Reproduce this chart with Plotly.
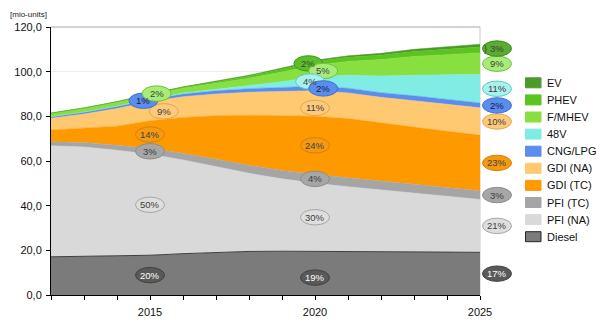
import plotly.graph_objects as go

# ---------------- data ----------------
years = list(range(2012, 2026))
diesel = [17.1, 17.3, 17.5, 17.8, 18.5, 19.1, 19.5, 19.6, 19.6, 19.5, 19.4, 19.3, 19.2, 19.1]
pfi_na = [49.7, 49.0, 47.3, 45.2, 42.0, 38.4, 35.0, 32.4, 30.4, 29.0, 27.6, 26.2, 24.8, 23.7]
pfi_tc = [1.8, 2.0, 2.3, 2.7, 3.0, 3.3, 3.6, 3.8, 4.0, 4.0, 4.0, 4.0, 4.0, 3.9]
gdi_tc = [5.3, 6.5, 8.5, 12.3, 16.0, 19.5, 22.4, 24.5, 26.0, 26.5, 26.0, 25.5, 25.3, 24.9]
gdi_na = [5.2, 6.2, 7.9, 8.5, 9.3, 9.7, 10.3, 11.0, 11.5, 11.5, 11.5, 12.0, 12.1, 12.2]
cng = [0.7, 0.8, 0.9, 1.0, 1.2, 1.4, 1.6, 1.8, 2.0, 2.1, 2.1, 2.2, 2.2, 2.2]
v48 = [0.0, 0.1, 0.2, 0.3, 0.4, 0.6, 1.2, 2.4, 4.2, 5.8, 7.5, 9.3, 11.0, 12.7]
fmhev = [1.5, 1.6, 1.7, 1.8, 2.2, 2.8, 3.5, 4.3, 5.2, 6.2, 7.3, 8.3, 9.0, 9.7]
phev = [0.1, 0.2, 0.2, 0.3, 0.4, 0.6, 0.9, 1.3, 1.6, 1.8, 2.0, 2.2, 2.4, 2.6]
ev = [0.1, 0.1, 0.1, 0.2, 0.2, 0.3, 0.4, 0.5, 0.6, 0.7, 0.8, 1.0, 1.1, 1.3]

series_names = ["Diesel", "PFI (NA)", "PFI (TC)", "GDI (TC)", "GDI (NA)",
                "CNG/LPG", "48V", "F/MHEV", "PHEV", "EV"]
series_values = [diesel, pfi_na, pfi_tc, gdi_tc, gdi_na, cng, v48, fmhev, phev, ev]
tick_years = [2015, 2020, 2025]
y_ticks = [0, 20, 40, 60, 80, 100, 120]

# share labels (text as printed on the chart)
labels_2015 = [("Diesel", "20%"), ("PFI (NA)", "50%"), ("PFI (TC)", "3%"), ("GDI (TC)", "14%"),
               ("GDI (NA)", "9%"), ("CNG/LPG", "1%"), ("F/MHEV", "2%")]
labels_2020 = [("Diesel", "19%"), ("PFI (NA)", "30%"), ("PFI (TC)", "4%"), ("GDI (TC)", "24%"),
               ("GDI (NA)", "11%"), ("PHEV", "2%"), ("F/MHEV", "5%"), ("48V", "4%"), ("CNG/LPG", "2%")]
labels_2025 = [("Diesel", "17%"), ("PFI (NA)", "21%"), ("PFI (TC)", "3%"), ("GDI (TC)", "23%"),
               ("GDI (NA)", "10%"), ("CNG/LPG", "2%"), ("48V", "11%"), ("F/MHEV", "9%"), ("EV+PHEV", "3%")]

# ---------------- style ----------------
colors = {
    "Diesel": "#7b7b7b", "PFI (NA)": "#d9d9d9", "PFI (TC)": "#a5a5a5", "GDI (TC)": "#ff9900",
    "GDI (NA)": "#ffc972", "CNG/LPG": "#5b8def", "48V": "#80ece4", "F/MHEV": "#88e040",
    "PHEV": "#5cc41e", "EV": "#4c9a2a",
}
lab_style = {  # fill, border, text
    "Diesel": ("#595959", "#404040", "#ffffff"),
    "PFI (NA)": ("#dedede", "#a6a6a6", "#404040"),
    "PFI (TC)": ("#a6a6a6", "#8c8c8c", "#404040"),
    "GDI (TC)": ("#f59a10", "#d88000", "#404040"),
    "GDI (NA)": ("#fdc97a", "#e0a850", "#404040"),
    "CNG/LPG": ("#5b8def", "#3f6fd0", "#1a1a40"),
    "48V": ("#a8f2ee", "#60c8c0", "#404040"),
    "F/MHEV": ("#a8ec78", "#70c040", "#404040"),
    "PHEV": ("#5cbf2a", "#3c9a1a", "#404040"),
    "EV+PHEV": ("#5aad30", "#3c8a1a", "#404040"),
}
off_2015 = {"GDI (NA)": (0.42, 0), "CNG/LPG": (-0.2, 0), "F/MHEV": (0.2, 1.5)}
off_2020 = {"Diesel": (0, -2), "GDI (NA)": (0, -2), "CNG/LPG": (0.25, 0), "48V": (-0.15, 0),
            "F/MHEV": (0.25, 0), "PHEV": (-0.2, 0)}

FONT = "Liberation Sans, Arial, sans-serif"
W, H = 605, 322
L, R, T, B = 51, 125, 27, 27
PW, PH = W - L - R, H - T - B
X0, X1 = years[0], years[-1]
Y0, Y1 = y_ticks[0], y_ticks[-1]


def xp(x):  # data x -> paper
    return (x - X0) / (X1 - X0)


def yp(y):  # data y -> paper
    return (y - Y0) / (Y1 - Y0)


def px_x(px):  # pixel -> paper
    return (px - L) / PW


def px_y(px):
    return (H - B - px) / PH


fig = go.Figure()
for name, vals in zip(series_names, series_values):
    line = dict(width=1, color="#404040") if name == "Diesel" else dict(width=0.5, color=colors[name])
    fig.add_trace(go.Scatter(x=years, y=vals, name=name, mode="lines", stackgroup="one",
                             fillcolor=colors[name], line=line, showlegend=False,
                             hoverinfo="x+y+name"))

# cumulative bands
cum_lo, cum_hi = {}, {}
run = [0.0] * len(years)
for name, vals in zip(series_names, series_values):
    cum_lo[name] = run[:]
    run = [a + b for a, b in zip(run, vals)]
    cum_hi[name] = run[:]
cum_lo["EV+PHEV"] = cum_lo["PHEV"]
cum_hi["EV+PHEV"] = cum_hi["EV"]

shapes, annos = [], []
EW, EH = 14.5 / PW, 7.7 / PH  # ellipse half sizes (paper)


def add_label(cx, cy, key, text):
    fill, border, tcol = lab_style[key]
    shapes.append(dict(type="circle", xref="paper", yref="paper", x0=cx - EW, x1=cx + EW,
                       y0=cy - EH, y1=cy + EH, fillcolor=fill, line=dict(color=border, width=1),
                       layer="above"))
    annos.append(dict(x=cx, y=cy, xref="paper", yref="paper", text=text, showarrow=False,
                      font=dict(family=FONT, size=9.5, color=tcol), xanchor="center", yanchor="middle"))


for yr, labs, offs in [(2015, labels_2015, off_2015), (2020, labels_2020, off_2020)]:
    i = years.index(yr)
    for key, text in labs:
        dx, dy = offs.get(key, (0, 0))
        mid = (cum_lo[key][i] + cum_hi[key][i]) / 2 + dy
        add_label(xp(yr + dx), yp(mid), key, text)

i = len(years) - 1
right_x = px_x(497)
for key, text in labels_2025:
    mid = (cum_lo[key][i] + cum_hi[key][i]) / 2
    add_label(right_x, yp(mid), key, text)
    if key == "EV+PHEV":
        annos.append(dict(x=px_x(485), y=yp(mid), xref="paper", yref="paper", text="}",
                          showarrow=False, font=dict(family=FONT, size=9, color="#404040"),
                          xanchor="center", yanchor="middle"))

# manual legend (top item = last series)
for k, name in enumerate(reversed(series_names)):
    cy = 82.8 + k * 17.1
    shapes.append(dict(type="rect", xref="paper", yref="paper", x0=px_x(525.5), x1=px_x(541),
                       y0=px_y(cy + 5), y1=px_y(cy - 5), fillcolor=colors[name],
                       line=dict(color="#262626" if name == "Diesel" else colors[name], width=1)))
    annos.append(dict(x=px_x(545), y=px_y(cy), xref="paper", yref="paper", text=name,
                      showarrow=False, xanchor="left", yanchor="middle",
                      font=dict(family=FONT, size=11, color="#111111")))

# plot frame top / right
shapes.append(dict(type="line", xref="paper", yref="paper", x0=0, x1=1, y0=1, y1=1,
                   line=dict(color="#a6a6a6", width=1), layer="above"))
shapes.append(dict(type="line", xref="paper", yref="paper", x0=1, x1=1, y0=0, y1=1,
                   line=dict(color="#c8c8c8", width=1), layer="below"))

annos.append(dict(x=px_x(8), y=px_y(14), xref="paper", yref="paper", text="[mio-units]",
                  showarrow=False, xanchor="left", yanchor="middle",
                  font=dict(family=FONT, size=8, color="#1a1a1a")))

fig.update_layout(
    template="none", width=W, height=H, separators=",.",
    margin=dict(l=L, r=R, t=T, b=B, pad=0),
    paper_bgcolor="white", plot_bgcolor="white",
    showlegend=False, shapes=shapes, annotations=annos,
    font=dict(family=FONT, size=11, color="#1a1a1a"),
    xaxis=dict(range=[X0, X1], tickvals=years,
               ticktext=[str(y) if y in tick_years else "" for y in years],
               ticks="outside", ticklen=4, tickcolor="#000", showline=True, linecolor="#000",
               linewidth=1, showgrid=False, zeroline=False, automargin=False,
               ticklabelstandoff=3,
               tickfont=dict(family=FONT, size=11, color="#111111")),
    yaxis=dict(range=[Y0, Y1], tickvals=y_ticks, tickformat=".1f", ticks="outside", ticklen=4,
               tickcolor="#000", showline=True, linecolor="#000", linewidth=1,
               showgrid=True, gridcolor="#ececec", zeroline=False, automargin=False,
               ticklabelstandoff=2,
               tickfont=dict(family=FONT, size=11, color="#111111")),
)

fig.write_html("out.html")
